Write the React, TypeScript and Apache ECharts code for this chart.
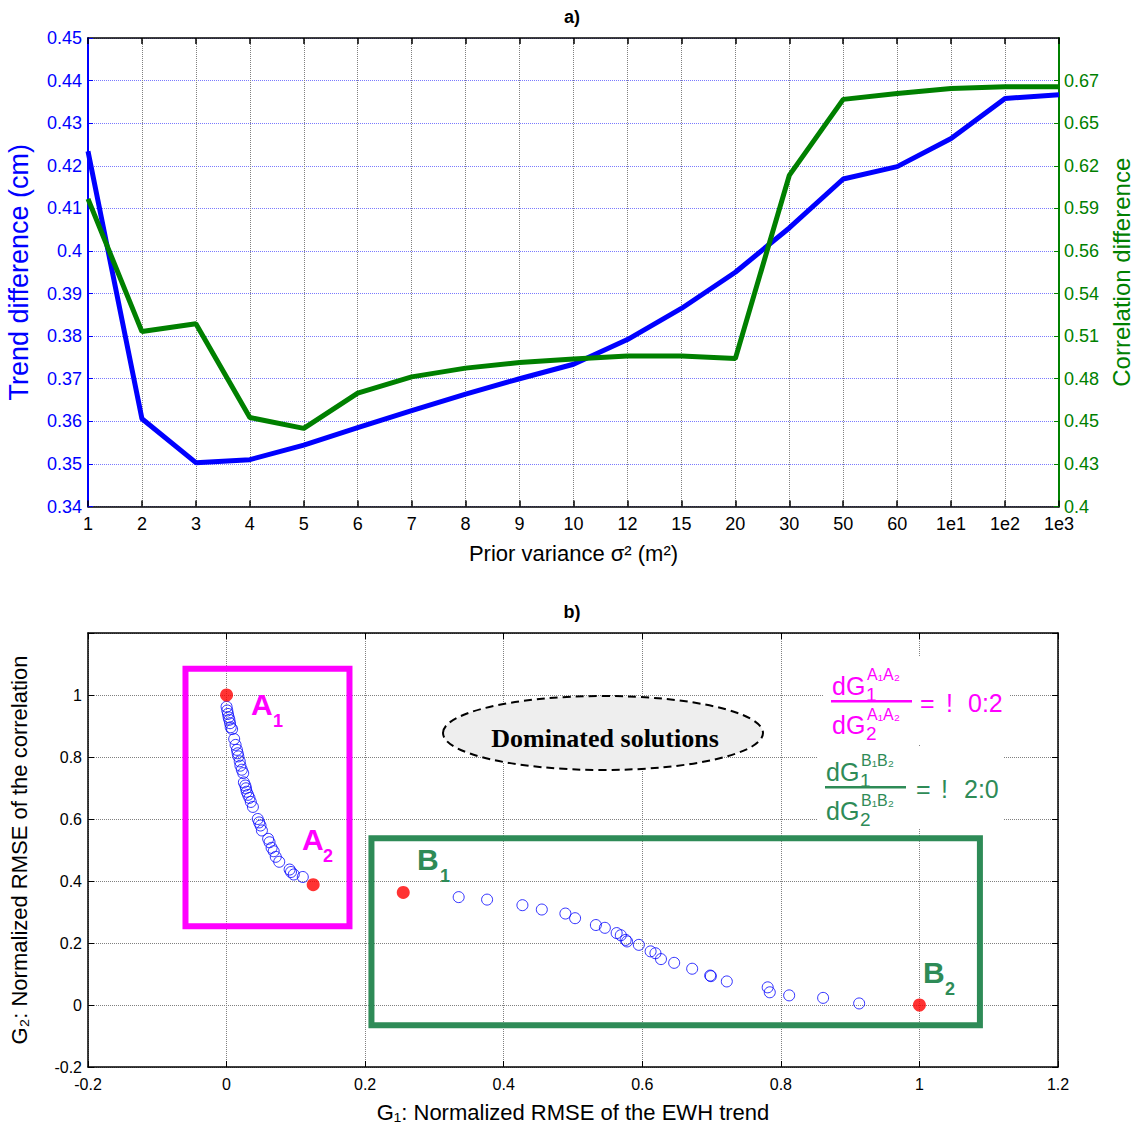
import React, { useEffect, useRef } from "react";
import * as echarts from "echarts";

// ---------- Panel a) data ----------
const priorVariance = ["1", "2", "3", "4", "5", "6", "7", "8", "9", "10", "12", "15", "20", "30", "50", "60", "1e1", "1e2", "1e3"];
const trendDifference = [0.4234, 0.3606, 0.3503, 0.351, 0.3544, 0.3585, 0.3625, 0.3664, 0.37, 0.3734, 0.3792, 0.3865, 0.395, 0.4054, 0.4169, 0.4198, 0.4264, 0.4358, 0.4367];
const correlationDifference = [0.597, 0.512, 0.517, 0.457, 0.45, 0.4726, 0.483, 0.4886, 0.4922, 0.4945, 0.4964, 0.4964, 0.4947, 0.612, 0.6607, 0.6645, 0.6677, 0.6688, 0.6688];
const rightAxisMin = 0.4;
const rightAxisMax = 0.7;
const rightAxisSteps = 11;

// ---------- Panel b) data ----------
const paretoG1A = [0.0, 0.001, 0.002, 0.003, 0.004, 0.005, 0.006, 0.008, 0.011, 0.013, 0.015, 0.016, 0.017, 0.019, 0.02, 0.022, 0.024, 0.025, 0.027, 0.028, 0.029, 0.031, 0.033, 0.035, 0.038, 0.045, 0.047, 0.049, 0.051, 0.06, 0.062, 0.065, 0.068, 0.071, 0.076, 0.091, 0.093, 0.097, 0.11];
const paretoG2A = [0.962, 0.95, 0.939, 0.928, 0.92, 0.909, 0.896, 0.89, 0.858, 0.839, 0.823, 0.812, 0.802, 0.786, 0.772, 0.759, 0.748, 0.718, 0.708, 0.699, 0.688, 0.678, 0.668, 0.655, 0.639, 0.6, 0.589, 0.579, 0.563, 0.536, 0.525, 0.507, 0.496, 0.478, 0.462, 0.437, 0.429, 0.421, 0.413];
const paretoG1B = [0.335, 0.376, 0.427, 0.455, 0.489, 0.503, 0.533, 0.546, 0.563, 0.569, 0.576, 0.578, 0.595, 0.612, 0.619, 0.627, 0.646, 0.672, 0.698, 0.699, 0.722, 0.781, 0.784, 0.812, 0.861, 0.913];
const paretoG2B = [0.348, 0.34, 0.322, 0.308, 0.295, 0.28, 0.258, 0.249, 0.232, 0.225, 0.21, 0.205, 0.194, 0.173, 0.167, 0.148, 0.136, 0.117, 0.095, 0.093, 0.076, 0.057, 0.041, 0.031, 0.023, 0.005];
const extremeNames = ["A1", "A2", "B1", "B2"];
const extremeG1 = [0.0, 0.125, 0.255, 1.0];
const extremeG2 = [1.0, 0.388, 0.363, 0.0];
const boxA = [[-0.0593, 1.085], [0.1774, 0.254]];
const boxB = [[0.2091, 0.538], [1.0873, -0.065]];

const FONT = "'Liberation Sans', Arial, Helvetica, sans-serif";
const MAGENTA = "#ff00ff";
const SEAGREEN = "#2e8b57";

const trimNum = (v: number) => String(parseFloat(v.toFixed(2)));

function txt(text: string, x: number, y: number, size: number, fill: string, weight = "normal", family = FONT, align = "left") {
  return {
    type: "text",
    x,
    y,
    z: 100,
    silent: true,
    style: { text, fill, fontSize: size, fontWeight: weight, fontFamily: family, align, verticalAlign: "middle" },
  };
}

function fraction(top: number, left: number, color: string, sup: string) {
  // top: y of numerator centre
  return [
    txt("dG", left, top, 25, color),
    txt("1", left + 34, top + 8, 19, color),
    txt(sup, left + 35, top - 12, 16, color),
    { type: "rect", z: 100, silent: true, shape: { x: left - 1, y: top + 14, width: 81, height: 2.5 }, style: { fill: color } },
    txt("dG", left, top + 39, 25, color),
    txt("2", left + 34, top + 47, 19, color),
    txt(sup, left + 35, top + 28, 16, color),
  ];
}

export default function App() {
  const ref = useRef<HTMLDivElement>(null);
  useEffect(() => {
    document.body.style.margin = "0";
    const chart = echarts.init(ref.current!, null, { renderer: "svg" });

    const rightTicks: number[] = [];
    for (let i = 0; i < rightAxisSteps; i++) rightTicks.push(rightAxisMin + (i * (rightAxisMax - rightAxisMin)) / rightAxisSteps);

    const paretoA = paretoG1A.map((x, i) => [x, paretoG2A[i]]);
    const paretoB = paretoG1B.map((x, i) => [x, paretoG2B[i]]);
    const extremes = extremeG1.map((x, i) => ({ name: extremeNames[i], value: [x, extremeG2[i]] }));

    const graphic: any[] = [
      txt("a)", 572, 17, 18, "#000", "bold", FONT, "center"),
      txt("b)", 572, 612, 18, "#000", "bold", FONT, "center"),
      {
        type: "ellipse",
        z: 90,
        silent: true,
        shape: { cx: 603, cy: 733, rx: 160, ry: 37 },
        style: { fill: "#eeeeee", stroke: "#000", lineWidth: 2, lineDash: [8, 5] },
      },
      txt("Dominated solutions", 605, 738, 26, "#000", "bold", "'Liberation Serif', 'Times New Roman', serif", "center"),
      { type: "rect", z: 95, silent: true, shape: { x: 823, y: 657, width: 187, height: 88 }, style: { fill: "#fff" } },
      { type: "rect", z: 95, silent: true, shape: { x: 817, y: 747, width: 186, height: 81 }, style: { fill: "#fff" } },
      ...fraction(686, 832, MAGENTA, "A\u2081A\u2082"),
      txt("=", 920, 703, 25, MAGENTA),
      txt("!", 946, 703, 25, MAGENTA),
      txt("0:2", 968, 703, 25, MAGENTA),
      ...fraction(772, 826, SEAGREEN, "B\u2081B\u2082"),
      txt("=", 916, 789, 25, SEAGREEN),
      txt("!", 941, 789, 25, SEAGREEN),
      txt("2:0", 964, 789, 25, SEAGREEN),
      txt("A", 251, 704, 30, MAGENTA, "bold"),
      txt("1", 273, 721, 18, MAGENTA, "bold"),
      txt("A", 302, 839, 30, MAGENTA, "bold"),
      txt("2", 323, 856, 18, MAGENTA, "bold"),
      txt("B", 417, 859, 30, SEAGREEN, "bold"),
      txt("1", 440, 876, 18, SEAGREEN, "bold"),
      txt("B", 923, 972, 30, SEAGREEN, "bold"),
      txt("2", 945, 989, 18, SEAGREEN, "bold"),
    ];

    const blackLine = { onZero: false, lineStyle: { color: "#000", width: 1.5 } };

    chart.setOption({
      animation: false,
      backgroundColor: "#fff",
      textStyle: { fontFamily: FONT },
      grid: [
        { left: 88, top: 38, width: 971, height: 468.5, containLabel: false, outerBoundsMode: "none" },
        { left: 88, top: 633, width: 970, height: 434, containLabel: false, outerBoundsMode: "none" },
      ],
      xAxis: [
        {
          gridIndex: 0,
          type: "category",
          data: priorVariance,
          boundaryGap: false,
          position: "bottom",
          axisLine: blackLine,
          axisTick: { inside: true, length: 6, interval: 0, lineStyle: { color: "#000", width: 1.5 } },
          axisLabel: { interval: 0, color: "#000", fontSize: 18, margin: 8 },
          splitLine: { show: true, interval: 0, lineStyle: { color: "#808080", type: "dotted", width: 1 } },
          name: "Prior variance \u03c3\u00b2 (m\u00b2)",
          nameLocation: "middle",
          nameGap: 36,
          nameTextStyle: { color: "#000", fontSize: 22 },
        },
        {
          gridIndex: 0,
          type: "category",
          data: priorVariance,
          boundaryGap: false,
          position: "top",
          axisLine: blackLine,
          axisTick: { inside: true, length: 6, interval: 0, lineStyle: { color: "#000", width: 1.5 } },
          axisLabel: { show: false },
          splitLine: { show: false },
        },
        {
          gridIndex: 1,
          type: "value",
          min: -0.2,
          max: 1.2,
          interval: 0.2,
          position: "bottom",
          axisLine: blackLine,
          axisTick: { inside: true, length: 6, lineStyle: { color: "#000" } },
          axisLabel: { color: "#000", fontSize: 16, margin: 9, formatter: (v: number) => trimNum(v) },
          splitLine: { show: true, lineStyle: { color: "#808080", type: "dotted", width: 1 } },
          name: "G\u2081: Normalized RMSE of the EWH trend",
          nameLocation: "middle",
          nameGap: 34,
          nameTextStyle: { color: "#000", fontSize: 22 },
        },
        {
          gridIndex: 1,
          type: "value",
          min: -0.2,
          max: 1.2,
          interval: 0.2,
          position: "top",
          axisLine: blackLine,
          axisTick: { inside: true, length: 6, lineStyle: { color: "#000" } },
          axisLabel: { show: false },
          splitLine: { show: false },
        },
      ],
      yAxis: [
        {
          gridIndex: 0,
          type: "value",
          min: 0.34,
          max: 0.45,
          interval: 0.01,
          position: "left",
          axisLine: { show: true, onZero: false, lineStyle: { color: "#0000ff", width: 2 } },
          axisTick: { show: true, inside: true, length: 5, lineStyle: { color: "#0000ff" } },
          axisLabel: { color: "#0000ff", fontSize: 18, margin: 6, formatter: (v: number) => trimNum(v) },
          splitLine: { show: true, lineStyle: { color: "#7a7aff", type: "dotted", width: 1 } },
          name: "Trend difference (cm)",
          nameLocation: "middle",
          nameGap: 56,
          nameTextStyle: { color: "#0000ff", fontSize: 27 },
        },
        {
          gridIndex: 0,
          type: "value",
          min: rightAxisMin,
          max: rightAxisMax,
          position: "right",
          axisLine: { show: true, onZero: false, lineStyle: { color: "#008000", width: 2 } },
          axisTick: { show: true, inside: true, length: 5, customValues: rightTicks, lineStyle: { color: "#008000" } },
          axisLabel: { color: "#008000", fontSize: 18, margin: 5, customValues: rightTicks, formatter: (v: number) => trimNum(v) },
          splitLine: { show: false },
          name: "Correlation difference",
          nameLocation: "middle",
          nameGap: 42,
          nameTextStyle: { color: "#008000", fontSize: 24 },
        },
        {
          gridIndex: 1,
          type: "value",
          min: -0.2,
          max: 1.2,
          interval: 0.2,
          position: "left",
          axisLine: { show: true, onZero: false, lineStyle: { color: "#000", width: 1.5 } },
          axisTick: { show: true, inside: true, length: 6, lineStyle: { color: "#000" } },
          axisLabel: {
            color: "#000",
            fontSize: 16,
            margin: 6,
            formatter: (v: number) => (Math.abs(v - 1.2) < 1e-6 ? "" : trimNum(v)),
          },
          splitLine: { show: true, lineStyle: { color: "#808080", type: "dotted", width: 1 } },
          name: "G\u2082: Normalized RMSE of the correlation",
          nameLocation: "middle",
          nameGap: 58,
          nameTextStyle: { color: "#000", fontSize: 22 },
        },
        {
          gridIndex: 1,
          type: "value",
          min: -0.2,
          max: 1.2,
          interval: 0.2,
          position: "right",
          axisLine: { show: true, onZero: false, lineStyle: { color: "#000", width: 1.5 } },
          axisTick: { show: true, inside: true, length: 6, lineStyle: { color: "#000" } },
          axisLabel: { show: false },
          splitLine: { show: false },
        },
      ],
      series: [
        {
          type: "line",
          name: "Trend difference",
          xAxisIndex: 0,
          yAxisIndex: 0,
          data: trendDifference,
          symbol: "none",
          lineStyle: { color: "#0000ff", width: 5 },
          itemStyle: { color: "#0000ff" },
        },
        {
          type: "line",
          name: "Correlation difference",
          xAxisIndex: 0,
          yAxisIndex: 1,
          data: correlationDifference,
          symbol: "none",
          lineStyle: { color: "#008000", width: 5 },
          itemStyle: { color: "#008000" },
        },
        {
          type: "scatter",
          name: "Pareto front",
          xAxisIndex: 2,
          yAxisIndex: 2,
          data: [...paretoA, ...paretoB],
          symbol: "circle",
          symbolSize: 11,
          itemStyle: { color: "rgba(0,0,0,0)", borderColor: "#0000ff", borderWidth: 1 },
          markArea: {
            silent: true,
            data: [
              [
                { coord: boxA[0], itemStyle: { color: "rgba(0,0,0,0)", borderColor: MAGENTA, borderWidth: 6 } },
                { coord: boxA[1] },
              ],
              [
                { coord: boxB[0], itemStyle: { color: "rgba(0,0,0,0)", borderColor: SEAGREEN, borderWidth: 6 } },
                { coord: boxB[1] },
              ],
            ],
          },
        },
        {
          type: "scatter",
          name: "Extremes",
          xAxisIndex: 2,
          yAxisIndex: 2,
          data: extremes,
          symbol: "circle",
          symbolSize: 13,
          itemStyle: { color: "#ff0000" },
          z: 5,
        },
      ],
      graphic,
    });
    return () => chart.dispose();
  }, []);
  return <div ref={ref} style={{ width: 1134, height: 1129 }} />;
}
